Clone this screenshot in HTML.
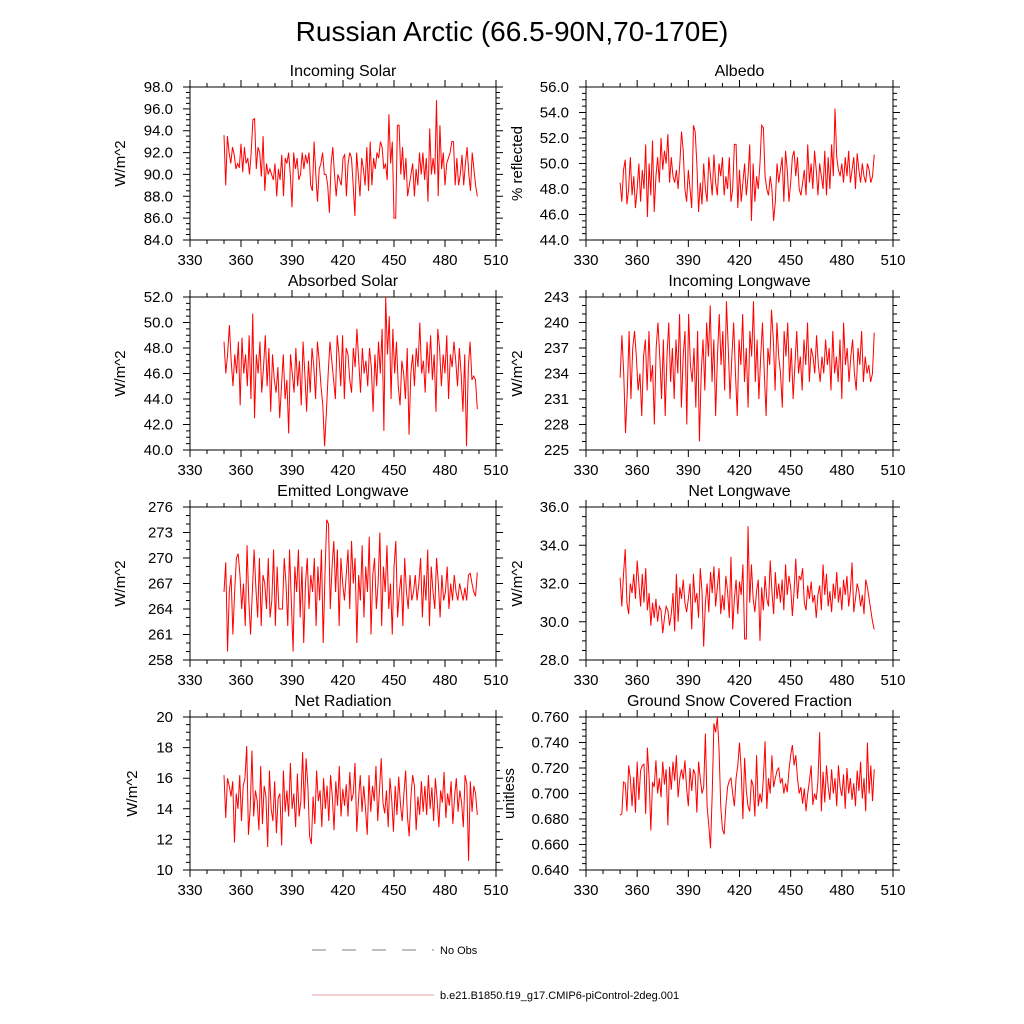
<!DOCTYPE html>
<html><head><meta charset="utf-8"><style>
body{margin:0;background:#fff}
svg{display:block;font-family:"Liberation Sans",sans-serif}
</style></head><body>
<svg id="chart" width="1024" height="1024" viewBox="0 0 1024 1024">
<text x="512" y="41" font-size="28" text-anchor="middle">Russian Arctic (66.5-90N,70-170E)</text>
<g>
<line x1="312" y1="950" x2="434" y2="950" stroke="#555" stroke-width="0.8" stroke-dasharray="14,16"/>
<text x="440" y="954" font-size="11">No Obs</text>
<line x1="312" y1="995" x2="434" y2="995" stroke="#e08080" stroke-width="0.8"/>
<text x="440" y="999" font-size="11">b.e21.B1850.f19_g17.CMIP6-piControl-2deg.001</text>
</g>
</svg>
<script>
const xTicks=[330,360,390,420,450,480,510];
const solar=[93.6,89.0,93.5,92.0,91.0,92.5,91.8,90.5,91.0,90.6,92.8,90.2,92.5,91.0,91.5,90.0,92.0,95.0,95.1,90.5,92.5,92.0,89.8,93.5,88.5,91.0,90.0,90.5,90.0,89.5,91.0,88.0,90.5,89.5,91.8,88.0,91.5,91.0,92.0,90.0,87.0,92.0,90.5,91.5,89.5,90.0,92.0,90.5,91.8,91.0,92.0,89.0,88.5,93.0,90.0,87.5,90.5,91.0,92.0,90.0,90.0,89.0,86.5,91.0,92.5,90.0,88.0,90.0,89.5,89.0,91.5,91.8,88.0,91.0,92.0,91.5,89.0,86.2,92.0,90.0,88.0,91.5,90.5,89.0,92.5,88.5,93.0,89.0,91.5,90.5,92.0,91.5,93.0,92.5,90.5,91.0,89.5,95.5,91.0,93.0,86.0,86.0,94.5,94.5,90.0,92.5,89.5,91.5,88.0,89.0,90.0,91.0,88.0,90.5,89.0,92.0,90.0,92.0,89.5,91.5,87.5,94.2,90.0,91.5,90.0,96.8,88.0,94.5,90.5,92.0,89.0,91.0,91.5,92.0,93.0,93.0,89.0,91.5,89.0,90.0,91.8,89.0,91.0,92.5,90.0,88.5,92.0,90.5,89.0,88.0];
const albedo=[48.5,47.0,49.5,50.3,46.8,48.0,50.5,47.5,49.0,46.5,48.0,50.0,47.0,49.5,48.0,51.5,45.8,50.0,47.5,51.8,46.2,49.0,50.5,48.5,52.0,49.5,51.0,50.0,52.3,48.5,50.5,49.0,48.5,49.5,48.0,50.0,52.5,51.0,48.0,47.0,49.5,48.0,46.5,53.0,52.5,50.0,46.2,48.5,46.8,50.0,48.0,47.0,50.5,49.0,47.5,50.7,48.5,47.5,50.0,49.0,50.5,47.5,49.0,48.0,50.5,47.0,48.0,51.5,51.5,46.5,49.5,47.0,48.5,50.0,47.5,49.0,51.5,45.5,50.0,47.0,49.0,48.0,50.0,53.0,52.8,49.0,48.0,47.5,49.0,48.0,45.5,47.0,50.0,48.5,49.5,50.5,47.0,51.0,49.5,47.0,48.5,50.5,51.0,49.0,50.5,48.0,47.5,48.5,49.5,47.5,51.5,48.5,50.0,48.0,51.0,49.5,47.5,50.0,49.0,48.0,51.0,47.5,50.5,48.0,51.5,49.0,54.3,50.5,49.5,49.0,50.0,48.5,50.5,49.0,51.0,48.5,49.5,50.5,48.0,50.8,49.5,48.5,50.0,49.0,48.5,50.0,49.5,48.5,49.0,50.7];
const absorbed=[48.5,46.0,47.5,49.8,47.0,45.0,47.5,46.0,48.5,43.5,48.8,46.0,47.5,45.0,49.0,44.0,50.7,42.5,47.5,46.0,48.5,44.5,46.5,49.0,45.0,48.0,43.0,47.5,45.5,44.5,46.5,42.5,45.0,47.5,44.0,45.5,41.3,47.5,46.0,44.5,48.0,45.0,47.0,43.5,48.5,46.0,43.0,47.0,44.5,48.0,46.5,44.0,48.5,47.0,45.0,43.5,40.3,43.0,46.0,48.5,47.0,45.5,44.0,49.0,47.5,45.0,49.0,44.0,48.0,47.5,45.5,44.5,48.0,46.5,49.5,47.0,44.5,48.0,46.0,47.0,45.0,48.0,46.5,43.0,47.5,45.0,48.5,46.0,49.5,41.5,52.0,47.5,50.5,44.0,49.5,46.0,48.5,45.0,43.5,47.0,46.0,44.0,48.0,41.2,46.0,47.5,45.0,48.0,46.5,50.0,46.0,47.0,44.5,48.5,46.0,49.0,45.5,47.5,43.0,49.5,48.0,45.0,47.5,46.0,49.0,44.0,47.5,46.5,48.5,47.0,45.0,48.0,46.0,43.0,47.5,40.3,46.5,48.5,45.5,45.8,45.5,43.2];
const incLW=[233.5,238.5,234,227,232,239,231,237,239,236,232,234,229,236,238,232,239,233,235,228,237,240,236,231,238,229,236,240,233,237,231,238,234,241,230,236,239,228,241,235,233,237,230,239,226,234,238,232,240,236,242,233,238,229,236,241,235,239,232,242.5,237,231,236,240,234,229,238,235,241,233,237,230,239,236,242.5,233,238,231,236,240,234,229,237,235,241.5,238,232,240,236,234,230,239,236,240,233,237,231,235,239,234,236,232,238,235,240,233,237,236,234,238.5,235,233,236,234,238,235,237,232,239,234,236,233,238,231,240,235,237,233,236,238,234,232,237,235,239,233,236,234,235,233,234,238.8];
const emitLW=[266,269.5,259,266,268,261,266,270,270.5,268,264,267,262,271.5,265,261,266,271,266.5,263,270,262,268,267,264,270,263,265,271,262,269,264,264,264,270,267,262,271,265,259,269,266,271,263,269,260,267,270,264,268,266,270,262,269,265,271,260,268,274.5,274,264,269,272,266,271,262,270,267,265,268,271,264,272,267,270,260,268,265,271.5,263,269,266,272.5,261,268,270,264,267,273,262,269,266,271.5,264,267,261,269,272,263,266,268,262,270,266,264,268,265,266,268,265,267,270,263,268,265,271,262,269,266,264,270,267,263,268,265,266,269,264,267,265,268,266,265,267,266,265,266.5,265,268,268.2,267,266,265.5,268.3];
const netLW=[32.3,30.8,32.5,33.8,31,30.4,32,31.5,32.5,31.2,33.2,32,30.8,32.5,31,32.8,30.6,31.5,29.8,31,30.2,31.2,30,30.8,30.6,29.4,30.2,30.8,30.6,29.8,30.4,31.5,29.5,32.5,30,31.8,31.2,32.2,31,30.5,31.2,32,29.6,32.5,31,31.5,30.2,32.8,31.6,28.7,31,32,30.5,32.6,31.5,32.9,30.8,31.8,32.8,30.4,31.4,30.6,32.4,31.6,30.2,33.4,29.6,31.2,32.2,30.4,32.1,31.4,33,29.1,29.1,35,31,33,31.2,30.5,31.6,32.2,29,31.8,30.6,32.4,31.2,30.8,33.2,31.6,30.4,32.6,31.2,32,31,32.2,30.6,33,31.4,32.4,31.8,30.3,31.6,33.3,31.2,32.4,32.2,32.8,31,30.6,31.9,31.2,32.1,31,31.4,30.2,31.4,31.9,30.6,33,31.4,32.5,30.8,31.6,30.5,32,31.2,32.6,31,31.8,30.6,32.2,31.4,32.4,30.8,31.6,33.1,30.5,31.2,32,31.6,30.8,31.4,30.4,32.2,31.8,31.2,30.6,30,29.6];
const netRad=[16.2,13.4,16,15.5,14.8,15.8,11.8,15,14,16.2,13.2,15.5,16,18.1,12.3,14,17.8,13.5,15.2,14.5,12.6,16.8,13,15.5,14.8,11.5,16.5,14,13.2,15.8,12.4,14.7,15,11.6,16.5,13.8,15.2,13.5,17,14,15,12.8,16.3,13.5,14.5,17.7,14,17.3,15.5,12.2,11.7,14.8,13,16.5,14.5,15.2,12.8,16,14,15.5,13.2,16.2,14.8,12.6,15.8,14.2,16.8,13.5,15.3,14.2,15.6,13.5,16.4,14.5,15,17,12.5,14.6,16.2,13.8,15.5,14,12.3,16.2,13.8,15.5,14.5,16.8,13.2,15.2,17.3,14.4,13.7,15.2,12.8,16,14.6,12.5,15.5,13.6,16.1,14.3,13.2,15,16.5,13.5,12.2,14.8,16.2,15.5,12.6,14.8,13.6,15.8,13.8,15.5,13.6,16.2,14,15.4,13.2,16,14.6,12.8,15.2,14.4,16.4,13.4,15,14.2,15.8,13,14.8,16,13.8,15.2,14.4,12.8,16.2,15.6,10.6,15.8,13.8,15.5,15,13.6];
const snow=[.683,.684,.709,.708,.686,.722,.712,.690,.713,.685,.725,.695,.718,.722,.723,.684,.736,.712,.671,.709,.705,.726,.700,.712,.697,.725,.707,.719,.675,.721,.703,.725,.710,.730,.697,.712,.719,.711,.726,.704,.690,.720,.702,.719,.715,.685,.725,.712,.700,.705,.747,.690,.675,.657,.700,.755,.748,.760,.735,.690,.672,.668,.690,.705,.710,.712,.700,.690,.712,.722,.740,.718,.680,.728,.702,.690,.686,.711,.706,.682,.730,.690,.700,.693,.712,.741,.688,.712,.700,.730,.705,.712,.718,.720,.708,.712,.700,.708,.701,.718,.730,.738,.722,.730,.712,.700,.705,.692,.704,.686,.700,.710,.722,.691,.700,.695,.710,.748,.686,.717,.693,.722,.705,.695,.719,.700,.712,.690,.722,.705,.698,.715,.688,.720,.700,.712,.695,.708,.690,.718,.702,.725,.696,.712,.686,.740,.700,.722,.694,.719];
const firstYear=350, lastYear=499;
const panels=[
 {name:"incoming-solar",title:"Incoming Solar",yt:"W/m^2",d:solar,min:84,max:98,step:2,minor:0.5,fmt:1,col:0,row:0,tx:65},
 {name:"albedo",title:"Albedo",yt:"% reflected",d:albedo,min:44,max:56,step:2,minor:0.5,fmt:1,col:1,row:0,tx:64},
 {name:"absorbed-solar",title:"Absorbed Solar",yt:"W/m^2",d:absorbed,min:40,max:52,step:2,minor:0.5,fmt:1,col:0,row:1,tx:65},
 {name:"incoming-longwave",title:"Incoming Longwave",yt:"W/m^2",d:incLW,min:225,max:243,step:3,minor:1,fmt:0,col:1,row:1,tx:64},
 {name:"emitted-longwave",title:"Emitted Longwave",yt:"W/m^2",d:emitLW,min:258,max:276,step:3,minor:1,fmt:0,col:0,row:2,tx:65},
 {name:"net-longwave",title:"Net Longwave",yt:"W/m^2",d:netLW,min:28,max:36,step:2,minor:0.5,fmt:1,col:1,row:2,tx:64},
 {name:"net-radiation",title:"Net Radiation",yt:"W/m^2",d:netRad,min:10,max:20,step:2,minor:0.5,fmt:0,col:0,row:3,tx:53},
 {name:"snow-fraction",title:"Ground Snow Covered Fraction",yt:"unitless",d:snow,min:0.64,max:0.76,step:0.02,minor:0.005,fmt:3,col:1,row:3,tx:72}];
const NS="http://www.w3.org/2000/svg";
const svg=document.getElementById('chart');
function mk(tag,attrs,parent){const e=document.createElementNS(NS,tag);for(const k in attrs)e.setAttribute(k,attrs[k]);parent.appendChild(e);return e;}
const colX=[190,586], colW=[306,307], rowY=[87,297,507,717], H=153;
panels.forEach(p=>{
 const L=colX[p.col],W=colW[p.col],T=rowY[p.row],R=L+W,B=T+H;
 const g=mk('g',{},svg);
 
 
 const xs=v=>L+(v-330)/180*W, ys=v=>B-(v-p.min)/(p.max-p.min)*H;
 const box=mk('rect',{x:L,y:T,width:W,height:H,fill:'none',stroke:'#000','stroke-width':1},g);
 
 
 let path='';
 for(let v=330;v<=510;v+=10){const x=xs(v),len=(v%30===0)?7:4;path+=`M${x},${B}v${len}M${x},${T}v${-len}`;}
 const nMinor=Math.round((p.max-p.min)/p.minor);
 for(let i=0;i<=nMinor;i++){const v=p.min+i*p.minor;const y=ys(v);const maj=Math.abs(((v-p.min)/p.step)-Math.round((v-p.min)/p.step))<1e-6;const len=maj?7:4;path+=`M${L},${y}h${-len}M${R},${y}h${len}`;}
 const tk=mk('path',{d:path,stroke:'#000','stroke-width':1,fill:'none'},g);
 
 
 xTicks.forEach(v=>{const t=mk('text',{x:xs(v),y:B+25,'font-size':15,'text-anchor':'middle'},g);t.textContent=v;
  
  });
 const nMaj=Math.round((p.max-p.min)/p.step);
 for(let i=0;i<=nMaj;i++){const v=p.min+i*p.step;const t=mk('text',{x:L-17,y:ys(v)+5,'font-size':15,'text-anchor':'end'},g);t.textContent=v.toFixed(p.fmt);
  
  }
 const ti=mk('text',{x:L+W/2,y:T-11,'font-size':16,'text-anchor':'middle'},g);ti.textContent=p.title;
 
 
 const lblX=L-p.tx;
 const yt=mk('text',{x:lblX,y:T+H/2,'font-size':15,'text-anchor':'middle',transform:`rotate(-90 ${lblX} ${T+H/2})`},g);yt.textContent=p.yt;
 
 
 const n=p.d.length;
 const pts=p.d.map((v,i)=>`${xs(firstYear+i*(lastYear-firstYear)/(n-1)).toFixed(2)},${ys(v).toFixed(2)}`).join(' ');
 const ln=mk('polyline',{points:pts,fill:'none',stroke:'#ff0000','stroke-width':1},g);
 
 
});
</script>
</body></html>
